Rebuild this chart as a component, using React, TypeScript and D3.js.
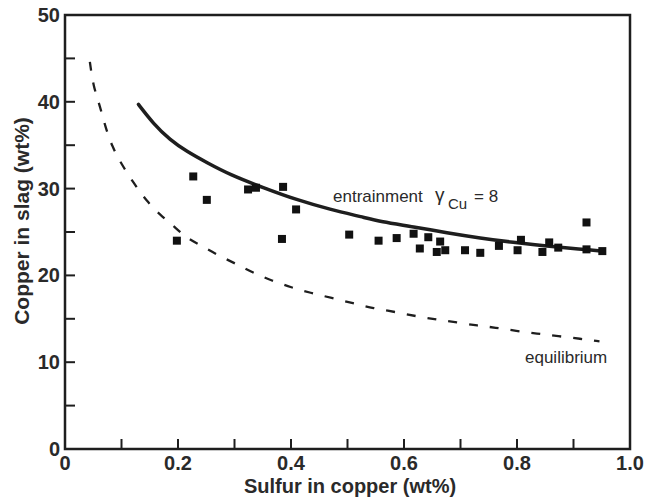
import React from "react";
import * as d3 from "d3";

const W = 645;
const H = 499;

// Measured data points: sulfur in copper (wt%) vs copper in slag (wt%)
const pointsX = [0.198, 0.227, 0.251, 0.324, 0.338, 0.386, 0.384, 0.409, 0.503, 0.555, 0.587, 0.617, 0.628, 0.643, 0.658, 0.664, 0.673, 0.708, 0.735, 0.768, 0.801, 0.807, 0.845, 0.857, 0.873, 0.923, 0.923, 0.951];
const pointsY = [24.0, 31.4, 28.7, 29.9, 30.1, 30.2, 24.2, 27.6, 24.7, 24.0, 24.3, 24.8, 23.1, 24.4, 22.7, 23.9, 22.9, 22.9, 22.6, 23.4, 22.9, 24.1, 22.7, 23.8, 23.2, 26.1, 23.0, 22.8];

// Entrainment model curve (gamma_Cu = 8)
const entrainX = [0.13, 0.156, 0.186, 0.215, 0.251, 0.292, 0.351, 0.41, 0.469, 0.528, 0.558, 0.617, 0.676, 0.735, 0.793, 0.853, 0.912, 0.951];
const entrainY = [39.7, 37.5, 35.6, 34.3, 33.0, 31.6, 30.1, 28.7, 27.6, 26.7, 26.2, 25.6, 24.9, 24.3, 23.8, 23.4, 23.0, 22.8];

// Equilibrium curve
const equilX = [0.044, 0.05, 0.062, 0.071, 0.083, 0.1, 0.121, 0.145, 0.168, 0.192, 0.215, 0.242, 0.271, 0.301, 0.333, 0.366, 0.401, 0.434, 0.472, 0.51, 0.546, 0.584, 0.621, 0.658, 0.693, 0.731, 0.761, 0.799, 0.835, 0.873, 0.912, 0.946];
const equilY = [44.6, 41.8, 39.5, 37.2, 34.9, 32.8, 30.7, 28.5, 27.0, 25.7, 24.3, 23.4, 22.3, 21.4, 20.3, 19.4, 18.6, 18.0, 17.4, 16.8, 16.2, 15.8, 15.3, 14.9, 14.6, 14.2, 14.0, 13.6, 13.3, 13.0, 12.7, 12.4];

const xTickLabels = ["0", "0.2", "0.4", "0.6", "0.8", "1.0"];
const yTickLabels = ["0", "10", "20", "30", "40", "50"];

export default function App() {
  const x = d3.scaleLinear().domain([0, 1]).range([65, 630]);
  const y = d3.scaleLinear().domain([0, 50]).range([449, 15]);
  const line = d3
    .line<[number, number]>()
    .x((d) => x(d[0]))
    .y((d) => y(d[1]))
    .curve(d3.curveBasis);

  const entrain = entrainX.map((v, i) => [v, entrainY[i]] as [number, number]);
  const equil = equilX.map((v, i) => [v, equilY[i]] as [number, number]);

  const xTicks = d3.range(0, 11).map((i) => i / 10);
  const yTicks = d3.range(0, 11).map((i) => i * 5);
  const ink = "#1e1e1e";
  const font = "'Liberation Sans', Arial, Helvetica, sans-serif";
  const sq = 8;

  return (
    <svg
      width={W}
      height={H}
      style={{ position: "absolute", left: 0, top: 0, background: "#fff" }}
      fontFamily={font}
    >
      {/* frame */}
      <rect x={65} y={15} width={565} height={434} fill="none" stroke={ink} strokeWidth={2.5} />
      {/* x ticks */}
      {xTicks.map((t) => (
        <line key={"xt" + t} x1={x(t)} x2={x(t)} y1={449} y2={439} stroke={ink} strokeWidth={2} />
      ))}
      {/* y ticks */}
      {yTicks.map((t) => (
        <line key={"yt" + t} x1={65} x2={75} y1={y(t)} y2={y(t)} stroke={ink} strokeWidth={2} />
      ))}
      {xTickLabels.map((s) => (
        <text key={"xl" + s} x={x(+s)} y={470} textAnchor="middle" fontSize={20} fontWeight="bold" fill="#2a2a2a">
          {s}
        </text>
      ))}
      {yTickLabels.map((s) => (
        <text key={"yl" + s} x={60} y={y(+s) + 7} textAnchor="end" fontSize={20} fontWeight="bold" fill="#2a2a2a">
          {s}
        </text>
      ))}
      <text x={350} y={493} textAnchor="middle" fontSize={20} fontWeight="bold" fill="#2a2a2a">
        Sulfur in copper (wt%)
      </text>
      <text
        transform={`translate(29,221) rotate(-90)`}
        textAnchor="middle"
        fontSize={21}
        fontWeight="bold"
        fill="#2a2a2a"
      >
        Copper in slag (wt%)
      </text>

      {/* curves */}
      <path d={line(equil) || ""} fill="none" stroke={ink} strokeWidth={2.3} strokeDasharray="9,12" />
      <path d={line(entrain) || ""} fill="none" stroke={ink} strokeWidth={3.5} strokeLinecap="round" />

      {/* points */}
      {pointsX.map((v, i) => (
        <rect key={"p" + i} x={x(v) - sq / 2} y={y(pointsY[i]) - sq / 2} width={sq} height={sq} fill="#111" />
      ))}

      {/* annotations */}
      <text x={333} y={202} fontSize={17} fill="#2a2a2a">
        entrainment
      </text>
      <text x={435} y={201} fontSize={19} fill="#2a2a2a">
        γ
      </text>
      <text x={448} y={209} fontSize={15} fill="#2a2a2a">
        Cu
      </text>
      <text x={474} y={202} fontSize={17} fill="#2a2a2a">
        = 8
      </text>
      <text x={525} y={363} fontSize={17} fill="#2a2a2a">
        equilibrium
      </text>
    </svg>
  );
}
